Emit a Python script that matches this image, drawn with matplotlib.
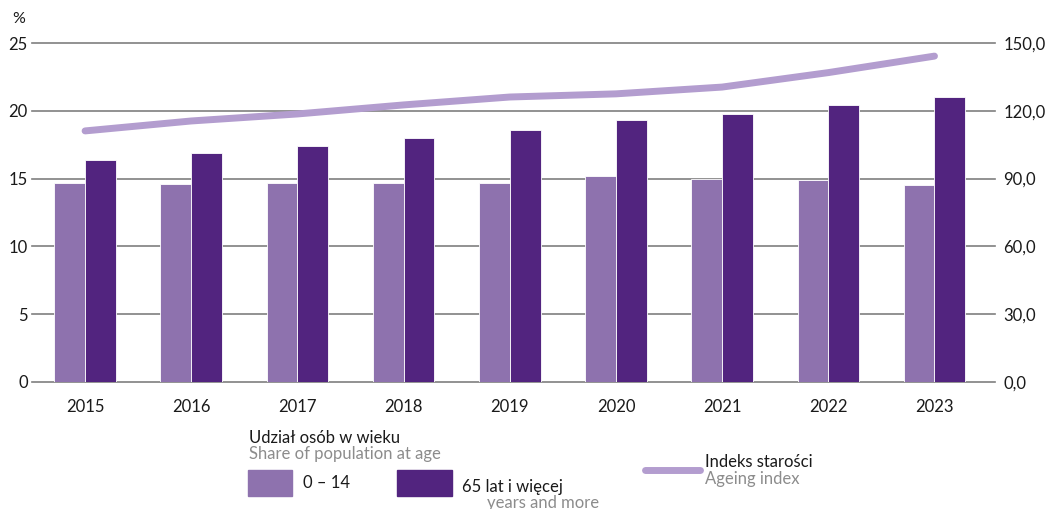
import matplotlib.pyplot as plt
import numpy as np
from matplotlib.patches import Rectangle
from matplotlib.lines import Line2D

years = ['2015', '2016', '2017', '2018', '2019', '2020', '2021', '2022', '2023']
share_0_14 = [14.7, 14.6, 14.7, 14.7, 14.7, 15.2, 15.0, 14.9, 14.5]
share_65_plus = [16.4, 16.9, 17.4, 18.0, 18.6, 19.3, 19.8, 20.4, 21.0]
ageing_index = [111.1, 115.5, 118.6, 122.6, 126.1, 127.5, 130.5, 136.9, 144.2]

left_ticks = [0, 5, 10, 15, 20, 25]
right_ticks = [0, 30, 60, 90, 120, 150]

LIGHT = '#8E72AE'
DARK = '#52247F'
LINE = '#B39DCF'
GRID = '#7F7F7F'
GRAY_TXT = '#8C8C8C'

plt.rcParams['font.family'] = ['Lato', 'DejaVu Sans']

W, H = 1047, 509
fig = plt.figure(figsize=(W / 100, H / 100), dpi=100)
ax = fig.add_axes([32 / W, (H - 382) / H, (995 - 32) / W, (382 - 43) / H])

x = np.arange(len(years))
bw = 0.29
ax.bar(x - bw / 2, share_0_14, bw, color=LIGHT, edgecolor='white', linewidth=0.6, zorder=2)
ax.bar(x + bw / 2, share_65_plus, bw, color=DARK, edgecolor='white', linewidth=0.6, zorder=2)

ax.set_xlim(-0.5, 8.57)
ax.set_ylim(0, 25)
for t in left_ticks:
    ax.axhline(t, color=GRID, linewidth=1.2, zorder=1, clip_on=False)

ax.set_yticks(left_ticks)
ax.set_yticklabels([str(t) for t in left_ticks])
ax.set_xticks(x)
ax.set_xticklabels(years)
ax.tick_params(axis='both', length=0, labelsize=12, colors='#1a1a1a')
ax.tick_params(axis='y', pad=3)
ax.tick_params(axis='x', pad=12)
for s in ax.spines.values():
    s.set_visible(False)

ax2 = ax.twinx()
ax2.set_ylim(0, 150)
ax2.plot(x, ageing_index, color=LINE, linewidth=5, solid_capstyle='round', zorder=3)
ax2.set_yticks(right_ticks)
ax2.set_yticklabels([f'{t:.1f}'.replace('.', ',') for t in right_ticks])
ax2.tick_params(axis='y', length=0, labelsize=12, colors='#1a1a1a', pad=6)
for s in ax2.spines.values():
    s.set_visible(False)

fig.text(12 / W, 1 - 19 / H, '%', fontsize=11.5, color='#1a1a1a', va='center')

# legend
def fx(px):
    return px / W


def fy(py):
    return 1 - py / H


fig.text(fx(249), fy(438), 'Udział osób w wieku', fontsize=12, color='#1a1a1a', va='center')
fig.text(fx(249), fy(454), 'Share of population at age', fontsize=12, color=GRAY_TXT, va='center')
fig.patches.append(Rectangle((fx(248), fy(496)), fx(292) - fx(248), fy(470) - fy(496),
                             transform=fig.transFigure, color=LIGHT))
fig.text(fx(303), fy(483), '0 – 14', fontsize=12, color='#1a1a1a', va='center')
fig.patches.append(Rectangle((fx(397), fy(496)), fx(452) - fx(397), fy(470) - fy(496),
                             transform=fig.transFigure, color=DARK))
fig.text(fx(462), fy(487), '65 lat i więcej', fontsize=12, color='#1a1a1a', va='center')
fig.text(fx(487), fy(503), 'years and more', fontsize=12, color=GRAY_TXT, va='center')
fig.lines.append(Line2D([fx(645), fx(700)], [fy(470), fy(470)], transform=fig.transFigure,
                        color=LINE, linewidth=5, solid_capstyle='round'))
fig.text(fx(705), fy(462), 'Indeks starości', fontsize=12, color='#1a1a1a', va='center')
fig.text(fx(705), fy(479), 'Ageing index', fontsize=12, color=GRAY_TXT, va='center')

fig.savefig('out.png', dpi=100)
